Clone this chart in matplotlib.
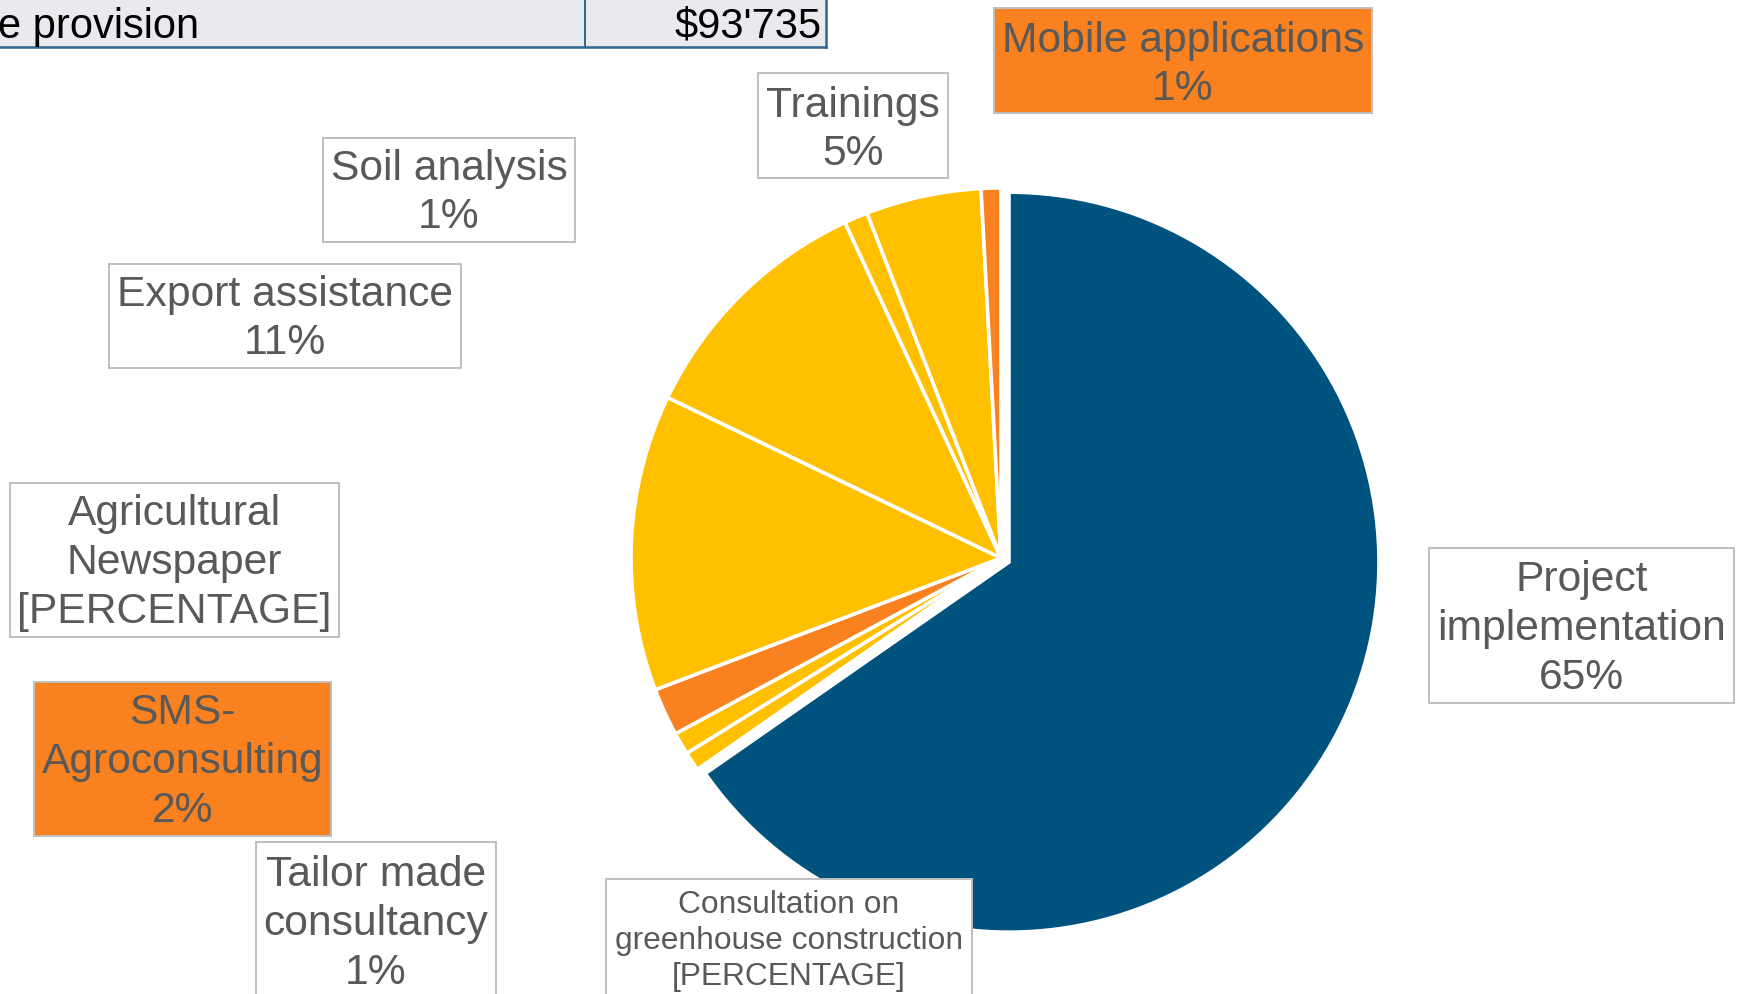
import matplotlib.pyplot as plt
from matplotlib.patches import Rectangle

plt.rcParams['font.family'] = ['Liberation Sans', 'DejaVu Sans']

# slice data, clockwise from 12 o'clock
categories = ['Project implementation', 'Consultation on greenhouse construction',
              'Tailor made consultancy', 'SMS-Agroconsulting', 'Agricultural Newspaper',
              'Export assistance', 'Soil analysis', 'Trainings', 'Mobile applications']
shares = [65.25, 0.83, 0.97, 2.08, 12.92, 10.92, 1.03, 5.03, 0.86]
label_texts = ['Project\nimplementation\n65%',
               'Consultation on\ngreenhouse construction\n[PERCENTAGE]',
               'Tailor made\nconsultancy\n1%',
               'SMS-\nAgroconsulting\n2%',
               'Agricultural\nNewspaper\n[PERCENTAGE]',
               'Export assistance\n11%',
               'Soil analysis\n1%',
               'Trainings\n5%',
               'Mobile applications\n1%']

BLUE = '#00537F'
YELLOW = '#FFC000'
ORANGE = '#F98120'
GREY_TXT = '#595959'
colors = [BLUE, YELLOW, YELLOW, ORANGE, YELLOW, YELLOW, YELLOW, YELLOW, ORANGE]
# pie explode is in data units here (pixels), the big slice is pulled out a bit
explode = [9, 0, 0, 0, 0, 0, 0, 0, 0]

W, H = 1738, 994
fig = plt.figure(figsize=(W / 100, H / 100), dpi=100)
ax = fig.add_axes([0, 0, 1, 1])

ax.pie(shares, colors=colors, explode=explode, startangle=90, counterclock=False,
       center=(1001, H - 558), radius=370,
       wedgeprops=dict(edgecolor='white', linewidth=2.6))

# label boxes: (x0, y0, x1, y1) in image pixels (y down), text centre y, font size, fill
boxes = [
    (1429, 548, 1734, 703, 629, 30.7, 'white'),
    (606, 879, 972, 1010, 941, 22.9, 'white'),
    (256, 842, 496, 1010, 924, 30.7, 'white'),
    (34, 682, 331, 836, 762, 30.7, ORANGE),
    (10, 483, 339, 637, 563, 30.7, 'white'),
    (109, 264, 461, 368, 319, 30.7, 'white'),
    (323, 138, 575, 242, 193, 30.7, 'white'),
    (758, 73, 948, 178, 130, 30.7, 'white'),
    (994, 8, 1372, 113, 65, 30.7, ORANGE),
]
for (x0, y0, x1, y1, ty, fs, fc), txt in zip(boxes, label_texts):
    ax.add_patch(Rectangle((x0, H - y1), x1 - x0, y1 - y0, facecolor=fc,
                           edgecolor='#BFBFBF', linewidth=1.4, zorder=3))
    ax.text((x0 + x1) / 2, H - ty, txt, ha='center', va='center', fontsize=fs,
            color=GREY_TXT, linespacing=1.28, zorder=4)

# fragment of the table at the top left
ax.add_patch(Rectangle((-5, H - 47), 831, 52, facecolor='#E8EAEE',
                       edgecolor='none', zorder=3))
ax.plot([-5, 826], [H - 47, H - 47], color='#2E6690', lw=1.8, zorder=4)
ax.plot([585, 585], [H - 47, H + 5], color='#2E6690', lw=1.4, zorder=4)
ax.plot([826, 826], [H - 47, H + 5], color='#2E6690', lw=1.8, zorder=4)
ax.text(-2, H - 27, 'e provision', ha='left', va='center', fontsize=30,
        color='black', zorder=5)
ax.text(822, H - 27, "$93'735", ha='right', va='center', fontsize=30,
        color='black', zorder=5)

ax.set_xlim(0, W)
ax.set_ylim(0, H)
ax.set_aspect('auto')
ax.axis('off')

fig.savefig('out.png', dpi=100)
